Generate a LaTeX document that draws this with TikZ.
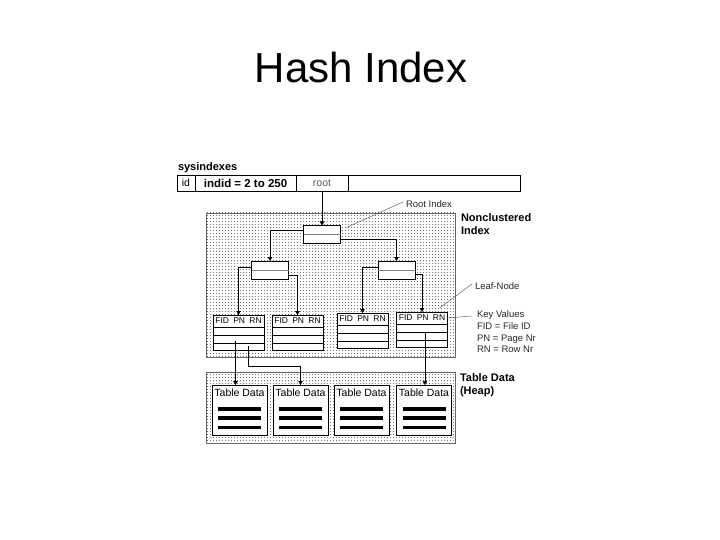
\documentclass[tikz,border=0pt]{standalone}
\usepackage{fontspec}
\setmainfont{Liberation Sans}
\usetikzlibrary{arrows.meta, positioning, patterns, calc}

\pgfdeclarepatternformonly{finedots}{\pgfqpoint{0pt}{0pt}}{\pgfqpoint{3pt}{3pt}}{\pgfqpoint{3pt}{3pt}}{%
    \pgfpathrectangle{\pgfqpoint{0pt}{0pt}}{\pgfqpoint{1pt}{1pt}}\pgfusepath{fill}}

\begin{document}
\begin{tikzpicture}[
        x=1pt, y=-1pt,
        >={Triangle[length=4pt,width=4.5pt]},
        every node/.style={inner sep=0pt, outer sep=0pt, font=\fontsize{9.5}{11.7}\selectfont},
        cell/.style={draw, minimum height=16pt, font=\fontsize{10.5}{12}\selectfont},
        region/.style={draw=black!60, pattern=finedots, pattern color=black!55},
        inode/.style={draw, fill=white, minimum width=37pt, minimum height=18pt},
        leafbox/.style={draw, fill=white, minimum width=51pt, minimum height=35pt},
        databox/.style={draw, fill=white, minimum width=55pt, minimum height=50pt},
        lbl/.style={anchor=west, text=black!85},
        head/.style={anchor=north west, align=left, font=\bfseries\fontsize{11}{13}\selectfont},
        leader/.style={thin, black!70},
        bar/.style={line width=3.5pt}
    ]
        \useasboundingbox (0,0) rectangle (720,540);

        \node (title) at (361,67) {\fontsize{42}{48}\selectfont Hash Index};

        % sysindexes row
        \node[anchor=base west, font=\bfseries\fontsize{11}{13}\selectfont] (sys) at (178,171) {sysindexes};
        \node[cell, minimum width=18pt, anchor=west] (idc) at (177,183) {id};
        \node[cell, minimum width=101pt, right=0pt of idc, font=\bfseries\fontsize{11.5}{13}\selectfont] (indid) {indid = 2 to 250};
        \node[cell, minimum width=52pt, right=0pt of indid, text=black!65] (rootc) {root};
        \node[cell, minimum width=172pt, right=0pt of rootc] (rest) {};

        % dotted areas
        \node[region, minimum width=249pt, minimum height=144pt] (nci) at (330.5,285) {};
        \node[region, minimum width=249pt, minimum height=71pt] (heap) at (330.5,407.5) {};

        % index pages
        \node[inode] (rootbox) at (322,234.5) {};
        \node[inode] (lc) at (270,270) {};
        \node[inode] (rc) at (396.5,270) {};
        \foreach \b in {rootbox, lc, rc}
            \draw[gray] (\b.west) -- (\b.east);

        % leaf nodes
        \foreach \n/\x/\y in {1/238.5/332.5, 2/297.5/332.5, 3/362.5/330.5, 4/422/329.5} {
            \node[leafbox] (l\n) at (\x,\y) {};
            \node[font=\fontsize{8.5}{10}\selectfont] (h\n) at ($(l\n.north)+(0,6)$) {FID\enspace PN\enspace RN};
            \draw[line width=1pt] ($(l\n.north west)+(0,12)$) -- ($(l\n.north east)+(0,12)$);
            \draw ($(l\n.north west)+(0,20)$) -- ($(l\n.north east)+(0,20)$);
            \draw ($(l\n.north west)+(0,28)$) -- ($(l\n.north east)+(0,28)$);
        }

        % data pages
        \foreach \n/\x in {1/239.5, 2/300.5, 3/361.5, 4/424} {
            \node[databox] (td\n) at (\x,410) {};
            \node[anchor=north, font=\fontsize{10.5}{12}\selectfont] (tt\n) at ($(td\n.north)+(0,4)$) {Table Data};
            \foreach \b in {24, 33, 42.5}
                \draw[bar] ($(td\n.north west)+(6,\b)$) -- ($(td\n.north east)+(-6,\b)$);
        }

        % pointers
        \draw[->] (rootc) -- (rootbox);
        \draw[->] ([yshift=4pt]rootbox.west) -| (lc.north);
        \draw[->] ([yshift=-5pt]rootbox.east) -| (rc.north);
        \draw[->] ([yshift=3pt]lc.west) -| (l1.north);
        \draw[->] ([yshift=-5pt]lc.east) -| (l2.north);
        \draw[->] ([yshift=3pt]rc.west) -| (l3.north);
        \draw[->] ([yshift=-4pt]rc.east) -| (l4.north);

        \coordinate (p1) at (235.5,341);
        \coordinate (p2) at (248,346);
        \coordinate (q2) at (248,366);
        \coordinate (p4) at (425,332);
        \draw[->] (p1) -- (p1 |- td1.north);
        \draw[->] (p2) -- (q2) -| (td2.north);
        \draw[->] (p4) -- (p4 |- td4.north);

        % legend
        \node[lbl] (ri) at (406,204) {Root Index};
        \draw[leader] ([xshift=6pt,yshift=-2pt]rootbox.north east) -- ([xshift=-3pt,yshift=2pt]ri.west);
        \node[head] (ncl) at (461,214) {Nonclustered\\Index};
        \node[lbl] (lfn) at (475,286) {Leaf-Node};
        \draw[leader] ([xshift=-8pt,yshift=4pt]l4.north east) -- ([xshift=-3pt,yshift=2pt]lfn.west);
        \node[lbl, anchor=north west, align=left] (kv) at (477,311) {Key Values\\FID = File ID\\PN = Page Nr\\RN = Row Nr};
        \draw[leader] (h4.east -| l4.east) -- ([xshift=-5pt,yshift=-5pt]kv.north west);
        \node[head] (heapl) at (460,373.5) {Table Data\\(Heap)};
    \end{tikzpicture}
\end{document}
